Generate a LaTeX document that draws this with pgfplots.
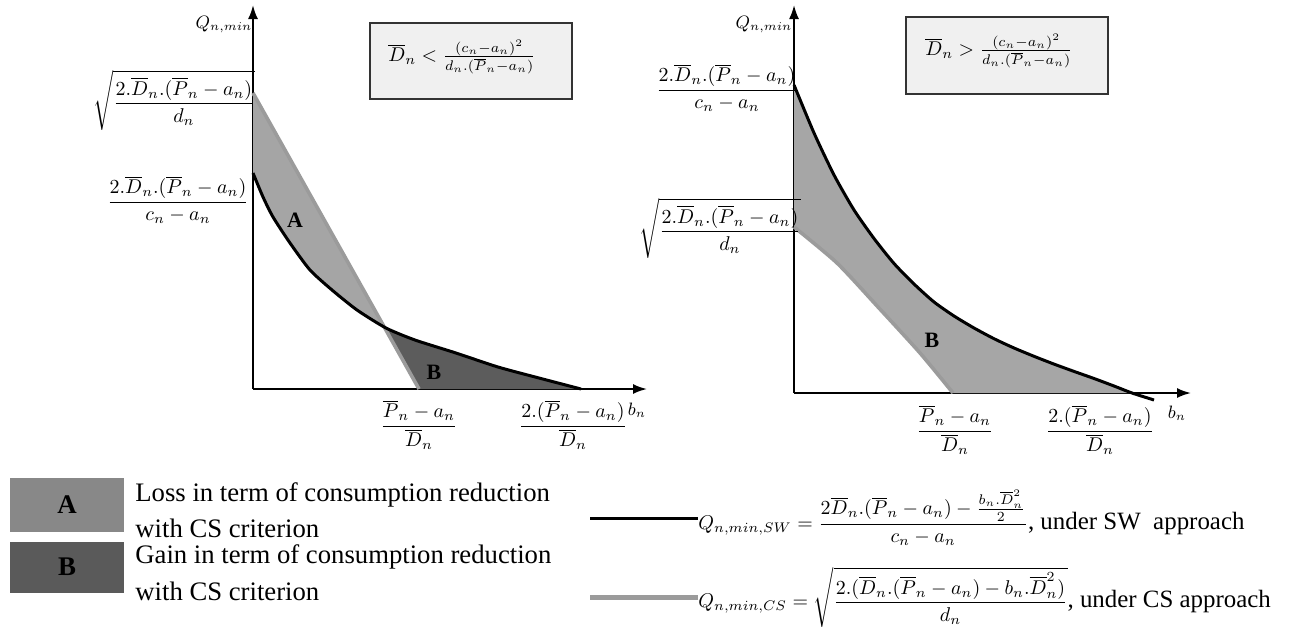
\documentclass[border=0pt]{standalone}
\usepackage{amsmath}
\usepackage{fontspec}
\setmainfont{Liberation Serif}
\usepackage{pgfplots}
\pgfplotsset{compat=1.18}
\usetikzlibrary{arrows.meta}

\definecolor{lineCS}{RGB}{155,155,155}
\definecolor{fillA}{RGB}{165,165,165}
\definecolor{fillB}{RGB}{92,92,92}
\definecolor{fillR}{RGB}{166,166,166}
\definecolor{boxA}{RGB}{136,136,136}
\definecolor{boxB}{RGB}{90,90,90}
\definecolor{condfill}{RGB}{240,240,240}

\newcommand{\Db}{\overline{D}_n}
\newcommand{\Pb}{\overline{P}_n}

\pgfplotsset{panel/.style={
    x=0.5bp, y=0.5bp, xmin=0, ymin=0, anchor=south west,
    axis lines=left, xtick=\empty, ytick=\empty, clip=false,
    axis line style={line width=1bp, -{Latex[length=7bp,width=5bp]}},
  }}

\begin{document}
\begin{tikzpicture}[x=0.5bp, y=-0.5bp, font=\fontsize{13.4}{16}\selectfont]
\path[use as bounding box] (0,0) rectangle (1297,639);

% left panel: D < (c-a)^2/(d(P-a))
\begin{axis}[panel, at={(126.5bp,-194.5bp)}, xmax=394, ymax=384]
  \addplot[fill=fillA, draw=none] coordinates {(0,296) (133,61) (104,79) (79,99) (57,119) (37,146) (20,172) (10,192) (0,216)};
  \addplot[fill=fillB, draw=none] coordinates {(133,61) (162,49) (203,36) (245,22) (286,11) (328,0) (166,0)};
  \addplot[lineCS, line width=1.8bp] coordinates {(0,296) (166,0)};
  \addplot[black, line width=1.5bp, smooth, tension=0.4] coordinates {(0,216) (10,192) (20,172) (37,146) (57,119) (79,99) (104,79) (133,61) (162,49) (203,36) (245,22) (286,11) (328,0)};
\end{axis}

% right panel: D > (c-a)^2/(d(P-a))
\begin{axis}[panel, at={(397bp,-196.5bp)}, xmax=397, ymax=388]
  \addplot[fill=fillR, draw=none] coordinates {(0,308) (20,260) (40,218) (60,183) (80,154.5) (100,129.5) (120,109) (140,91) (160,77) (180,65) (200,54.3) (220,45) (240,36.7) (260,28.9) (280,21.6) (300,14.5) (320,7) (338,0) (159,0) (126,40) (84,86) (43,130) (0,166)};
  \addplot[lineCS, line width=1.8bp, smooth, tension=0.4] coordinates {(0,166) (43,130) (84,86) (126,40) (159,0)};
  \addplot[black, line width=1.5bp, smooth, tension=0.4] coordinates {(0,308) (20,260) (40,218) (60,183) (80,154.5) (100,129.5) (120,109) (140,91) (160,77) (180,65) (200,54.3) (220,45) (240,36.7) (260,28.9) (280,21.6) (300,14.5) (320,7) (338,0) (360,-7)};
\end{axis}

% left panel labels
\node at (224,25) {\small$Q_{n,min}$};
\node at (174,100) {\normalsize$\sqrt{\dfrac{2.\Db.(\Pb-a_n)}{d_n}}$};
\node at (178,200) {\normalsize$\dfrac{2.\Db.(\Pb-a_n)}{c_n-a_n}$};
\node at (419,425) {\normalsize$\dfrac{\Pb-a_n}{\Db}$};
\node at (573,425) {\normalsize$\dfrac{2.(\Pb-a_n)}{\Db}$};
\node at (637,410) {\small$b_n$};
\node[font=\fontsize{11}{13}\selectfont\bfseries] at (295,220) {A};
\node[font=\fontsize{11}{13}\selectfont\bfseries] at (434,372) {B};
\draw[fill=condfill, draw=black!80, line width=1.1bp] (370,23) rectangle (572,99);
\node at (462,57) {\normalsize$\Db < \frac{(c_n-a_n)^2}{d_n.(\Pb-a_n)}$};

% right panel labels
\node at (764,25) {\small$Q_{n,min}$};
\node at (727,88) {\normalsize$\dfrac{2.\Db.(\Pb-a_n)}{c_n-a_n}$};
\node at (720,228) {\normalsize$\sqrt{\dfrac{2.\Db.(\Pb-a_n)}{d_n}}$};
\node at (955,430) {\normalsize$\dfrac{\Pb-a_n}{\Db}$};
\node at (1100,430) {\normalsize$\dfrac{2.(\Pb-a_n)}{\Db}$};
\node at (1177,413) {\small$b_n$};
\node[font=\fontsize{11}{13}\selectfont\bfseries] at (932,340) {B};
\draw[fill=condfill, draw=black!80, line width=1.1bp] (906,17) rectangle (1108,94);
\node at (999,51) {\normalsize$\Db > \frac{(c_n-a_n)^2}{d_n.(\Pb-a_n)}$};

% legend: areas
\fill[boxA] (10,478) rectangle (124,532);
\node[font=\fontsize{13.5}{15}\selectfont\bfseries] at (67,505) {A};
\fill[boxB] (10,542) rectangle (124,593);
\node[font=\fontsize{13.5}{15}\selectfont\bfseries] at (67,567) {B};
\node[anchor=west, inner sep=0] at (135,495) {Loss in term of consumption reduction};
\node[anchor=west, inner sep=0] at (135,528) {with CS criterion};
\node[anchor=west, inner sep=0] at (135,557) {Gain in term of consumption reduction};
\node[anchor=west, inner sep=0] at (135,591) {with CS criterion};

% legend: curves
\draw[black, line width=1.5bp] (590,518) -- (698,518);
\draw[lineCS, line width=2.5bp] (590,597) -- (698,597);
\node[anchor=west, inner sep=0] at (698,518) {\fontsize{10}{12}\selectfont$Q_{n,min,SW} = \dfrac{2\Db.(\Pb-a_n)-\frac{b_n.\Db^{2}}{2}}{c_n-a_n}$\fontsize{12.5}{15}\selectfont, under SW\ \ approach};
\node[anchor=west, inner sep=0] at (698,597) {\fontsize{10}{12}\selectfont$Q_{n,min,CS} = \sqrt{\dfrac{2.(\Db.(\Pb-a_n)-b_n.\Db^{2})}{d_n}}$\fontsize{12.5}{15}\selectfont, under CS approach};
\end{tikzpicture}
\end{document}
